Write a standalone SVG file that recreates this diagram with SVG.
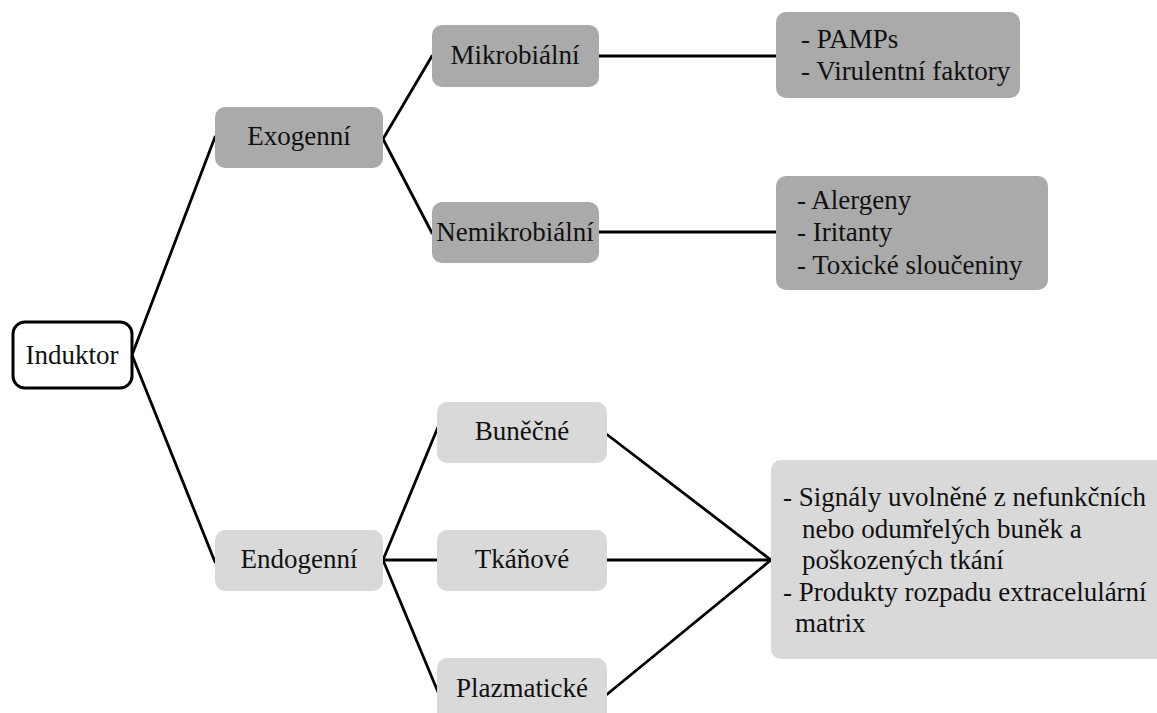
<svg xmlns="http://www.w3.org/2000/svg" width="1157" height="713" viewBox="0 0 1157 713">
<style>
text{font-family:'Liberation Serif','Times New Roman','DejaVu Serif',serif;font-size:27px;fill:#111}
.c{text-anchor:middle}
.dark{fill:#aaaaaa}
.light{fill:#d9d9d9}
.root{fill:#ffffff;stroke:#000;stroke-width:3}
.conn line{stroke:#000;stroke-width:2.8;stroke-linecap:round}
</style>
<rect width="1157" height="713" fill="#ffffff"/>
<g class="conn" id="connectors">
<line x1="132" y1="355" x2="215" y2="137"/>
<line x1="132" y1="355" x2="215" y2="562"/>
<line x1="383" y1="139" x2="432" y2="56"/>
<line x1="383" y1="139" x2="432" y2="233"/>
<line x1="599" y1="56" x2="776" y2="56"/>
<line x1="599" y1="232" x2="776" y2="232"/>
<line x1="383" y1="560" x2="438" y2="427"/>
<line x1="383" y1="560" x2="438" y2="560"/>
<line x1="383" y1="560" x2="438" y2="692"/>
<line x1="605" y1="433" x2="771" y2="560"/>
<line x1="605" y1="560" x2="771" y2="560"/>
<line x1="605" y1="696" x2="771" y2="560"/>
</g>
<g id="induktor"><rect class="root" x="13" y="322" width="119" height="66" rx="12"/><text class="c" x="72" y="364">Induktor</text></g>
<g id="exogenni"><rect class="dark" x="215" y="107" width="168" height="61" rx="10"/><text class="c" x="299" y="145">Exogenní</text></g>
<g id="mikrobialni"><rect class="dark" x="432" y="25" width="167" height="62" rx="10"/><text class="c" x="515" y="64">Mikrobiální</text></g>
<g id="nemikrobialni"><rect class="dark" x="432" y="202" width="167" height="61" rx="10"/><text class="c" x="515" y="241">Nemikrobiální</text></g>
<g id="pamps"><rect class="dark" x="776" y="12" width="244" height="86" rx="10"/><text x="801" y="48">- PAMPs</text><text x="801" y="80">- Virulentní faktory</text></g>
<g id="alergeny"><rect class="dark" x="776" y="176" width="272" height="114" rx="10"/><text x="797" y="209">- Alergeny</text><text x="797" y="241">- Iritanty</text><text x="797" y="274">- Toxické sloučeniny</text></g>
<g id="endogenni"><rect class="light" x="215" y="530" width="168" height="61" rx="10"/><text class="c" x="299" y="568">Endogenní</text></g>
<g id="bunecne"><rect class="light" x="437" y="402" width="170" height="61" rx="10"/><text class="c" x="522" y="440">Buněčné</text></g>
<g id="tkanove"><rect class="light" x="437" y="530" width="170" height="61" rx="10"/><text class="c" x="522" y="568">Tkáňové</text></g>
<g id="plazmaticke"><rect class="light" x="437" y="658" width="170" height="70" rx="10"/><text class="c" x="522" y="697">Plazmatické</text></g>
<g id="signaly"><rect class="light" x="771" y="460" width="400" height="199" rx="10"/>
<text x="783" y="506">- Signály uvolněné z nefunkčních</text>
<text x="802" y="537.5">nebo odumřelých buněk a</text>
<text x="802" y="569">poškozených tkání</text>
<text x="783" y="600.5">- Produkty rozpadu extracelulární</text>
<text x="795" y="632">matrix</text>
</g>
</svg>
